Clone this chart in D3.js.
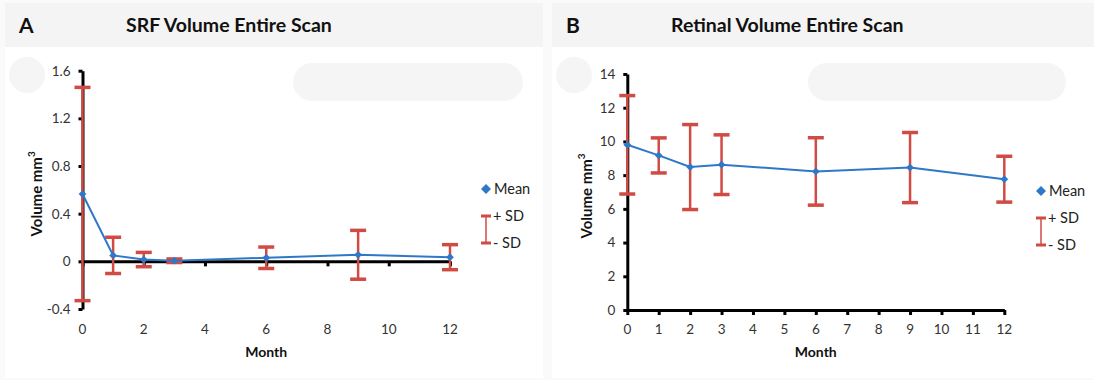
<!DOCTYPE html>
<html>
<head>
<meta charset="utf-8">
<script src="https://cdn.jsdelivr.net/npm/d3@7"></script>
<style>
  html, body { margin: 0; padding: 0; background: #fafafa; }
  svg { display: block; font-family: Lato, "Open Sans", sans-serif; }
</style>
</head>
<body>
<svg id="chart" width="1094" height="380"></svg>
<script>
// months at which the scans were taken
const months = [0, 1, 2, 3, 6, 9, 12];

// panel A: SRF volume (mm3)
const srfMean = [0.565, 0.05, 0.015, 0.005, 0.03, 0.055, 0.035];
const srfSD = [0.895, 0.152, 0.06, 0.015, 0.09, 0.205, 0.105];
const srfYTicks = [-0.4, 0, 0.4, 0.8, 1.2, 1.6];
const srfXTicks = [0, 2, 4, 6, 8, 10, 12];

// panel B: retinal volume (mm3)
const retMean = [9.8, 9.17, 8.48, 8.62, 8.22, 8.45, 7.76];
const retSD = [2.92, 1.04, 2.52, 1.77, 2.0, 2.08, 1.36];
const retYTicks = [0, 2, 4, 6, 8, 10, 12, 14];
const retXTicks = [0, 1, 2, 3, 4, 5, 6, 7, 8, 9, 10, 11, 12];

const blue = '#2f78c8';
const red = '#cf4b44';
const svg = d3.select('#chart');

// square turned 45deg, like the excel diamond marker
function diamond(size) {
    return d3.symbol(d3.symbolSquare, size)();
}

function drawPanel(p) {
    const g = svg.append('g');

    // header band + white plot area, with the faint blobs of the source scan
    g.append('rect').attr('x', p.left).attr('y', 3).attr('width', p.width).attr('height', 44).attr('fill', '#f4f4f4');
    g.append('rect').attr('x', p.left).attr('y', 47).attr('width', p.width).attr('height', 331).attr('fill', '#ffffff');
    g.append('circle').attr('cx', p.left + 22).attr('cy', 75).attr('r', 18).attr('fill', '#f5f5f5');
    g.append('rect').attr('x', p.blob[0]).attr('y', 63).attr('width', p.blob[1]).attr('height', 38)
        .attr('rx', 19).attr('fill', '#f5f5f5');

    g.append('text').attr('x', p.left + 14).attr('y', 33).attr('font-size', 21).attr('font-weight', 700)
        .attr('fill', '#111').text(p.letter);
    g.append('text').attr('x', p.titleX).attr('y', 32).attr('font-size', 19.5).attr('font-weight', 700)
        .attr('fill', '#111').text(p.title);

    const x = d3.scaleLinear().domain([0, 12]).range(p.xRange);
    const y = d3.scaleLinear().domain(p.yDomain).range(p.yRange);

    // x axis line sits at y = 0
    const xAxis = g.append('g')
        .attr('transform', `translate(0,${y(0)})`)
        .call(d3.axisBottom(x).tickValues(p.xTicks).tickSize(5).tickSizeOuter(0).tickFormat(''));
    xAxis.select('.domain').attr('stroke', '#000').attr('stroke-width', 3);
    xAxis.selectAll('.tick line').attr('stroke', '#000').attr('stroke-width', 3);

    // x tick labels always under the plot
    g.append('g').selectAll('text').data(p.xTicks).join('text')
        .attr('x', d => x(d)).attr('y', 334).attr('text-anchor', 'middle')
        .attr('font-size', 13.5).attr('fill', '#333').text(d => d);

    const yAxis = g.append('g')
        .attr('transform', `translate(${p.xRange[0]},0)`)
        .call(d3.axisLeft(y).tickValues(p.yTicks).tickSize(4).tickSizeOuter(0).tickPadding(8)
            .tickFormat(d => String(d)));
    yAxis.select('.domain').attr('stroke', '#000').attr('stroke-width', 3);
    yAxis.selectAll('.tick line').attr('stroke', '#000').attr('stroke-width', 3);
    yAxis.selectAll('.tick text').attr('font-size', 13.5).attr('fill', '#333')
        .attr('font-family', 'Lato, sans-serif');

    // axis titles
    const yt = g.append('text')
        .attr('transform', `translate(${p.yTitleX},${(p.yRange[0] + p.yRange[1]) / 2 + 4}) rotate(-90)`)
        .attr('text-anchor', 'middle').attr('font-size', 15).attr('font-weight', 700).attr('fill', '#111');
    yt.append('tspan').text('Volume mm');
    yt.append('tspan').attr('font-size', 10).attr('dy', -7).text('3');
    g.append('text').attr('x', (p.xRange[0] + p.xRange[1]) / 2).attr('y', 357).attr('text-anchor', 'middle')
        .attr('font-size', 14).attr('font-weight', 700).attr('fill', '#111').text('Month');

    const pts = months.map((m, i) => ({ m, mean: p.mean[i], sd: p.sd[i] }));

    // error bars
    const eb = g.append('g').attr('stroke', red);
    eb.selectAll('line.v').data(pts).join('line').attr('class', 'v')
        .attr('x1', d => x(d.m)).attr('x2', d => x(d.m))
        .attr('y1', d => y(d.mean + d.sd)).attr('y2', d => y(d.mean - d.sd))
        .attr('stroke-width', 2.5);
    eb.selectAll('line.c').data(pts.flatMap(d => [d.mean + d.sd, d.mean - d.sd].map(v => ({ m: d.m, v }))))
        .join('line').attr('class', 'c')
        .attr('x1', d => x(d.m) - 8).attr('x2', d => x(d.m) + 8)
        .attr('y1', d => y(d.v)).attr('y2', d => y(d.v))
        .attr('stroke-width', 3.5);

    // mean line + diamonds
    g.append('path').datum(pts)
        .attr('fill', 'none').attr('stroke', blue).attr('stroke-width', 2)
        .attr('d', d3.line().x(d => x(d.m)).y(d => y(d.mean)));
    g.append('g').selectAll('path').data(pts).join('path')
        .attr('transform', d => `translate(${x(d.m)},${y(d.mean)}) rotate(45)`)
        .attr('d', diamond(30))
        .attr('fill', blue);

    // legend
    const lg = g.append('g').attr('transform', `translate(${p.legendX},0)`);
    lg.append('path').attr('transform', `translate(0,${p.legendY}) rotate(45)`)
        .attr('d', diamond(50)).attr('fill', blue);
    lg.append('text').attr('x', 8).attr('y', p.legendY + 5).attr('font-size', 14.5).attr('fill', '#222').text('Mean');
    const t = p.legendY + 27, b = p.legendY + 54;
    lg.append('line').attr('x1', 0).attr('x2', 0).attr('y1', t).attr('y2', b).attr('stroke', red).attr('stroke-width', 1.5);
    lg.selectAll('line.cap').data([t, b]).join('line').attr('class', 'cap')
        .attr('x1', -5).attr('x2', 5).attr('y1', d => d).attr('y2', d => d)
        .attr('stroke', red).attr('stroke-width', 3);
    lg.append('text').attr('x', 7).attr('y', t + 5).attr('font-size', 14.5).attr('fill', '#222').text('+ SD');
    lg.append('text').attr('x', 7).attr('y', b + 5).attr('font-size', 14.5).attr('fill', '#222').text('- SD');
}

drawPanel({
    left: 5, width: 538, blob: [293, 230],
    letter: 'A', title: 'SRF Volume Entire Scan', titleX: 126,
    xRange: [82.5, 450], yDomain: [-0.4, 1.6], yRange: [309, 70.7],
    xTicks: srfXTicks, yTicks: srfYTicks, yTitleX: 42,
    mean: srfMean, sd: srfSD, legendX: 486, legendY: 189
});

drawPanel({
    left: 552, width: 542, blob: [808, 258],
    letter: 'B', title: 'Retinal Volume Entire Scan', titleX: 671,
    xRange: [627.3, 1004.3], yDomain: [0, 14], yRange: [310, 74],
    xTicks: retXTicks, yTicks: retYTicks, yTitleX: 592,
    mean: retMean, sd: retSD, legendX: 1041, legendY: 191
});
</script>
</body>
</html>
